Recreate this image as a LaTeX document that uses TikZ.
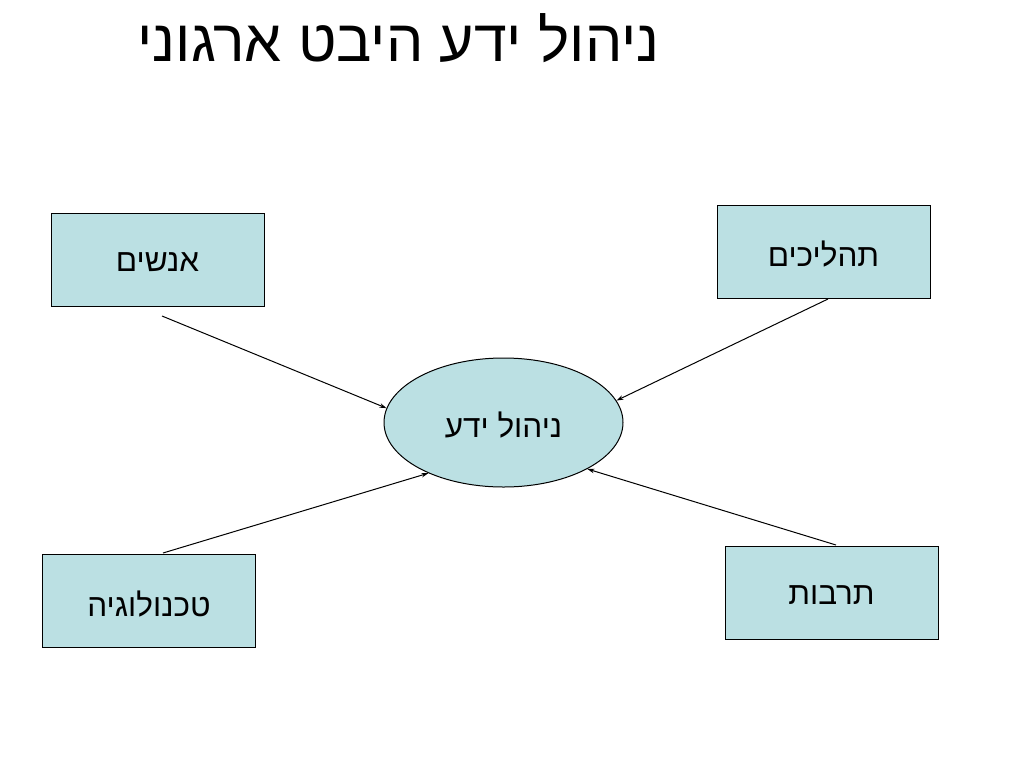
\documentclass[tikz,border=0pt]{standalone}
\usepackage{fontspec}
\setmainfont{Liberation Sans}
\newfontfamily\hebfont[Script=Hebrew]{Liberation Sans}
\TeXXeTstate=1
\usetikzlibrary{shapes.geometric,arrows.meta}
\definecolor{boxfill}{HTML}{BBE0E3}
\newcommand{\hebtxt}[1]{\raisebox{-3pt}[\height][\depth]{\beginR #1\endR}}
\tikzset{
  box/.style={draw=black, line width=1pt, fill=boxfill, minimum width=213pt, minimum height=93pt, inner sep=0pt, font=\hebfont\fontsize{31.5}{34}\selectfont},
  oval/.style={ellipse, draw=black, line width=1pt, fill=boxfill, minimum width=239pt, minimum height=129pt, inner sep=0pt, font=\hebfont\fontsize{31.5}{34}\selectfont},
  conn/.style={line width=1pt, -{Stealth[length=7pt,width=4.5pt]}},
  titletext/.style={inner sep=0pt, font=\hebfont\fontsize{59}{64}\selectfont}
}
\begin{document}
\begin{tikzpicture}[x=1pt,y=-1pt]
\useasboundingbox (0,0) rectangle (1024,768);
\fill[white] (0,0) rectangle (1024,768);
\node[titletext] (title) at (398.5,38) {\beginR ניהול ידע היבט ארגוני\endR};
\node[box] (people) at (157.5,259.5) {\hebtxt{אנשים}};
\node[box] (proc) at (823.5,251.5) {\hebtxt{תהליכים}};
\node[box] (tech) at (149,601) {\hebtxt{טכנולוגיה}};
\node[box] (cult) at (831.5,592.5) {\hebtxt{תרבות}};
\node[oval] (km) at (503.5,422.5) {\hebtxt{ניהול ידע}};
\coordinate (s1) at (162,316);
\coordinate (s2) at (828,299);
\coordinate (s3) at (163,553);
\coordinate (s4) at (836,545);
\draw[conn] (s1) -- (km.173);
\draw[conn] (s2) -- (km.11);
\draw[conn] (s3) -- (km.214);
\draw[conn] (s4) -- (km.331);
\end{tikzpicture}
\end{document}
